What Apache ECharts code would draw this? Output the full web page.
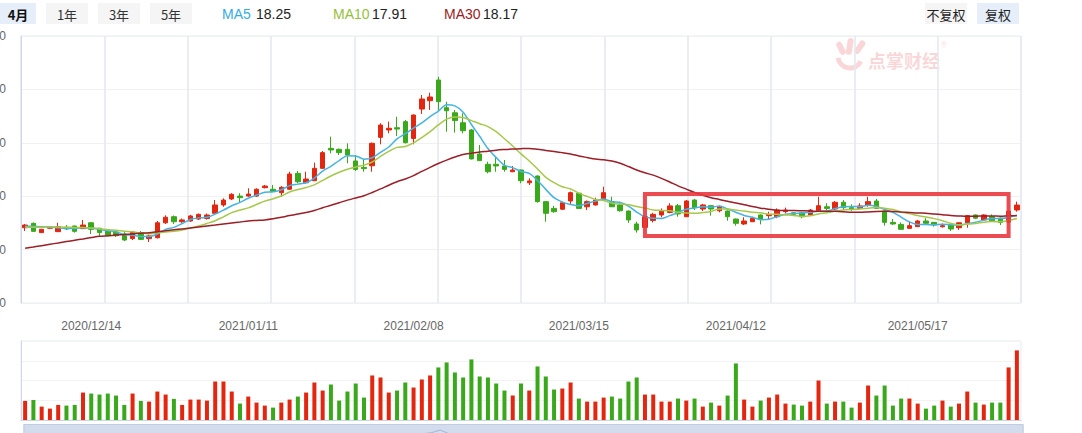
<!DOCTYPE html>
<html><head><meta charset="utf-8">
<script src="https://cdn.jsdelivr.net/npm/echarts@6/dist/echarts.min.js"></script>
<style>html,body{margin:0;padding:0;background:#fff;overflow:hidden}#c{width:1082px;height:433px}</style>
</head><body><div id="c"></div>
<script>
// ---------- data ----------
const dates = ['2020/12/02','2020/12/03','2020/12/04','2020/12/07','2020/12/08','2020/12/09','2020/12/10','2020/12/11','2020/12/14','2020/12/15',
'2020/12/16','2020/12/17','2020/12/18','2020/12/21','2020/12/22','2020/12/23','2020/12/24','2020/12/25','2020/12/28','2020/12/29',
'2020/12/30','2020/12/31','2021/01/04','2021/01/05','2021/01/06','2021/01/07','2021/01/08','2021/01/11','2021/01/12','2021/01/13',
'2021/01/14','2021/01/15','2021/01/18','2021/01/19','2021/01/20','2021/01/21','2021/01/22','2021/01/25','2021/01/26','2021/01/27',
'2021/01/28','2021/01/29','2021/02/01','2021/02/02','2021/02/03','2021/02/04','2021/02/05','2021/02/08','2021/02/09','2021/02/10',
'2021/02/18','2021/02/19','2021/02/22','2021/02/23','2021/02/24','2021/02/25','2021/02/26','2021/03/01','2021/03/02','2021/03/03',
'2021/03/04','2021/03/05','2021/03/08','2021/03/09','2021/03/10','2021/03/11','2021/03/12','2021/03/15','2021/03/16','2021/03/17',
'2021/03/18','2021/03/19','2021/03/22','2021/03/23','2021/03/24','2021/03/25','2021/03/26','2021/03/29','2021/03/30','2021/03/31',
'2021/04/01','2021/04/02','2021/04/06','2021/04/07','2021/04/08','2021/04/09','2021/04/12','2021/04/13','2021/04/14','2021/04/15',
'2021/04/16','2021/04/19','2021/04/20','2021/04/21','2021/04/22','2021/04/23','2021/04/26','2021/04/27','2021/04/28','2021/04/29',
'2021/04/30','2021/05/06','2021/05/07','2021/05/10','2021/05/11','2021/05/12','2021/05/13','2021/05/14','2021/05/17','2021/05/18',
'2021/05/19','2021/05/20','2021/05/21','2021/05/24','2021/05/25','2021/05/26','2021/05/27','2021/05/28','2021/05/31','2021/06/01',
'2021/06/02'];

const opens = [17.05,17.46,16.59,17.00,16.68,17.09,17.21,16.96,17.51,17.00,
16.74,16.63,16.46,16.03,16.59,16.03,16.11,17.51,18.08,17.61,
17.68,17.86,17.91,18.40,19.18,19.74,20.01,20.01,20.01,20.80,
20.65,20.33,20.65,22.14,21.26,21.45,22.61,24.48,24.39,24.39,
23.30,22.70,22.85,25.51,26.20,26.41,26.98,25.41,28.16,28.94,
30.88,28.29,27.81,26.88,26.20,23.95,22.99,22.99,22.83,22.29,
22.45,21.26,21.89,19.49,18.86,18.78,19.55,20.28,19.01,19.18,
19.64,19.49,19.18,18.61,17.40,17.08,17.73,18.24,18.48,19.11,
18.08,19.64,18.80,19.11,18.64,18.61,17.86,17.40,17.61,18.24,
18.18,18.08,18.55,18.45,18.45,18.24,18.61,19.01,18.80,19.43,
18.93,18.86,19.18,19.55,18.61,17.55,17.36,16.99,17.15,17.68,
17.55,17.14,17.30,17.05,17.51,18.24,17.78,18.08,17.94,17.58,
18.71];

const closes = [17.30,16.71,16.90,17.15,17.15,16.93,16.71,17.30,16.90,16.59,
16.30,16.30,15.90,16.65,15.96,16.28,17.51,18.03,17.61,17.78,
18.15,18.30,18.24,19.18,19.64,20.18,19.86,20.20,20.65,20.95,
20.43,20.83,22.08,21.35,21.61,22.61,24.08,24.33,24.08,23.86,
22.51,22.58,24.95,26.66,26.36,26.29,25.01,27.60,29.10,29.29,
28.85,28.00,27.08,26.13,23.49,23.33,22.29,22.83,22.51,22.45,
21.45,21.43,19.49,18.40,18.55,19.39,20.33,18.86,19.49,19.64,
20.33,19.01,18.64,17.78,16.84,18.08,18.30,18.59,19.09,18.34,
19.55,18.93,19.18,18.80,18.99,18.08,17.46,17.68,17.94,17.84,
18.30,18.70,18.70,18.30,18.08,18.70,19.11,18.86,19.43,18.93,
18.80,19.09,19.49,18.86,17.55,17.40,16.90,17.24,17.68,17.46,
17.30,17.24,16.93,17.51,18.18,17.94,18.24,17.70,17.55,18.60,
19.17];

const lows = [16.74,16.65,16.56,16.93,16.65,16.84,16.59,16.93,16.46,16.21,
16.23,16.18,15.80,15.90,15.90,15.71,16.04,17.40,17.40,17.50,
17.59,17.78,17.81,18.24,19.01,19.64,19.39,19.95,19.93,20.73,
20.39,19.95,20.58,21.21,21.19,21.43,22.55,24.01,23.86,23.08,
22.36,22.29,22.29,24.86,25.89,25.64,24.94,24.86,27.70,28.08,
28.08,26.04,25.95,25.89,23.44,23.30,22.14,22.29,22.29,22.26,
21.21,21.05,19.39,17.61,18.45,18.70,19.18,18.85,18.70,19.13,
19.60,18.99,18.55,17.51,16.59,17.03,17.54,18.03,18.40,18.08,
18.05,18.70,18.61,18.18,18.49,17.70,17.24,17.30,17.59,17.36,
17.78,17.94,18.40,18.24,17.94,18.18,18.56,18.70,18.70,18.70,
18.61,18.85,19.01,18.85,17.24,17.30,16.84,16.98,17.13,17.44,
17.15,17.06,16.74,16.84,17.05,17.86,17.73,17.61,17.30,17.49,
18.55];

const highs = [17.40,17.54,16.93,17.21,17.51,17.30,17.25,17.78,17.59,17.03,
16.79,16.74,16.63,16.70,16.74,16.40,17.68,18.21,18.19,17.91,
18.24,18.38,18.38,19.64,19.80,20.28,20.28,20.74,20.74,21.05,
21.05,20.95,22.29,22.36,22.29,23.14,24.23,25.58,24.46,24.95,
23.86,23.45,25.03,26.83,26.98,27.44,27.14,27.65,29.48,29.69,
31.19,28.85,28.08,27.76,26.29,24.79,23.23,23.70,23.39,22.83,
22.50,21.68,21.94,19.55,19.09,19.49,20.43,20.30,19.60,19.86,
20.89,19.95,19.49,18.66,17.61,18.19,18.45,18.85,19.34,19.28,
19.64,19.74,19.28,19.13,19.11,18.66,17.91,18.03,18.08,18.29,
18.55,18.86,18.93,18.51,18.51,18.80,19.95,19.34,19.55,19.64,
19.24,19.34,19.95,19.74,18.66,17.86,17.55,17.61,17.78,17.94,
17.59,17.44,17.36,17.55,18.21,18.29,18.30,18.30,18.01,18.70,
19.49];

const volumes = [57,60,40,34,45,43,45,82,79,76,
79,73,45,79,57,55,85,76,63,45,
61,61,58,115,115,85,49,70,52,43,
37,52,61,70,82,112,88,106,58,85,
109,67,133,127,82,88,112,97,121,133,
157,172,142,127,181,130,127,109,88,73,
109,88,160,130,91,94,112,64,55,55,
67,70,64,115,127,76,76,55,55,64,
58,64,40,52,43,73,169,61,40,58,
67,76,49,46,43,55,118,49,55,55,
37,52,103,73,103,43,64,64,49,34,
43,58,40,49,85,52,46,52,52,157,
208];

const ma5 = [17.18,17.17,17.15,17.12,17.04,16.97,16.97,17.05,17.00,16.89,
16.76,16.68,16.40,16.35,16.22,16.22,16.46,16.89,17.08,17.44,
17.82,17.97,18.02,18.33,18.70,19.11,19.42,19.81,20.11,20.37,
20.42,20.61,20.99,21.13,21.26,21.70,22.35,22.80,23.34,23.79,
23.77,23.47,23.60,24.11,24.61,25.37,25.85,26.38,26.87,27.46,
27.97,28.57,28.46,27.87,26.71,25.61,24.46,23.61,22.89,22.68,
22.31,22.13,21.47,20.64,19.86,19.45,19.23,19.11,19.32,19.54,
19.73,19.47,19.42,19.08,18.52,18.07,17.93,17.92,18.18,18.48,
18.77,18.90,19.02,18.96,19.09,18.80,18.50,18.20,18.03,17.80,
17.84,18.09,18.30,18.37,18.42,18.50,18.58,18.61,18.84,19.01,
19.03,19.02,19.15,19.03,18.76,18.48,18.04,17.59,17.35,17.34,
17.32,17.38,17.32,17.29,17.43,17.56,17.76,17.91,17.92,18.01,
18.25];

const ma10 = [17.10,17.10,17.10,17.11,17.11,17.10,17.08,17.06,17.02,16.96,
16.86,16.82,16.72,16.67,16.55,16.49,16.57,16.64,16.71,16.83,
17.02,17.22,17.45,17.70,18.07,18.46,18.70,18.91,19.22,19.54,
19.76,20.02,20.40,20.62,20.81,21.06,21.48,21.89,22.24,22.53,
22.73,22.91,23.20,23.73,24.20,24.57,24.66,24.99,25.49,26.04,
26.67,27.21,27.42,27.37,27.08,26.79,26.52,26.04,25.38,24.70,
23.96,23.30,22.54,21.77,21.27,20.88,20.68,20.29,19.98,19.70,
19.59,19.35,19.26,19.20,19.03,18.90,18.70,18.67,18.63,18.50,
18.42,18.41,18.47,18.57,18.79,18.79,18.70,18.61,18.50,18.45,
18.32,18.30,18.25,18.20,18.11,18.17,18.34,18.45,18.60,18.71,
18.76,18.80,18.88,18.94,18.88,18.75,18.53,18.37,18.19,18.05,
17.90,17.71,17.46,17.32,17.38,17.44,17.57,17.62,17.61,17.72,
17.91];

const ma30 = [15.12,15.24,15.37,15.50,15.62,15.75,15.88,16.00,16.13,16.25,
16.30,16.36,16.41,16.47,16.53,16.58,16.67,16.76,16.85,16.94,
17.03,17.12,17.21,17.30,17.40,17.49,17.58,17.68,17.73,17.78,
17.88,18.02,18.19,18.33,18.48,18.67,18.92,19.15,19.39,19.63,
19.84,20.05,20.35,20.68,21.03,21.36,21.61,21.93,22.32,22.70,
23.06,23.38,23.67,23.91,24.03,24.14,24.22,24.31,24.37,24.42,
24.45,24.47,24.39,24.29,24.19,24.08,23.95,23.77,23.62,23.48,
23.41,23.29,23.08,22.78,22.46,22.19,21.97,21.67,21.33,20.97,
20.66,20.35,20.09,19.85,19.70,19.52,19.36,19.19,19.04,18.88,
18.78,18.69,18.66,18.66,18.64,18.62,18.58,18.58,18.58,18.55,
18.50,18.50,18.53,18.57,18.59,18.57,18.52,18.48,18.43,18.40,
18.33,18.27,18.19,18.15,18.12,18.12,18.15,18.15,18.13,18.16,
18.17];

const dateLabels = ['2020/12/14','2021/01/11','2021/02/08','2021/03/15','2021/04/12','2021/05/17'];
const priceTicks = [10, 15, 20, 25, 30, 35];
const maNames = ['MA5','MA10','MA30'];
const maLatest = ['18.25','17.91','18.17'];
const tabLabels = ['4月','1年','3年','5年'];
const adjustLabels = ['不复权','复权'];
const watermarkText = '点掌财经';
const highlightDates = ['2021/03/25','2021/06/01'];
const highlightPrices = [16.27, 20.2];
const verticalDivisions = 12;

// ---------- chart ----------
const UP = '#e3260f', DOWN = '#3aa81b';
const MA_COLORS = ['#45b4e2', '#a6c84a', '#9c1e26'];
const MA_TEXT = ['#36ade0', '#96c03a', '#9a1c22'];
const FONT = 'Arial, "Liberation Sans", "Noto Sans CJK SC", sans-serif';
const CJK = '"Noto Sans CJK SC", Arial, sans-serif';

const candleData = dates.map((d, i) => [opens[i], closes[i], lows[i], highs[i]]);
const volData = volumes.map((v, i) => ({ value: v, itemStyle: { color: closes[i] >= opens[i] ? UP : DOWN } }));

const graphics = [];
const tabBoxes = [[0, 36], [46, 42], [98, 42], [150, 42]];
tabLabels.forEach((t, k) => {
  graphics.push({ type: 'rect', silent: true, shape: { x: tabBoxes[k][0], y: 3, width: tabBoxes[k][1], height: 21 },
    style: { fill: k === 0 ? '#e6eef9' : '#f5f5f5' } });
  graphics.push({ type: 'text', silent: true, x: tabBoxes[k][0] + tabBoxes[k][1] / 2, y: 14,
    style: { text: t, fill: k === 0 ? '#111' : '#333', font: (k === 0 ? 'bold ' : '') + '13px ' + CJK, textAlign: 'center', textVerticalAlign: 'middle' } });
});
const maNameX = [222, 333, 444], maValX = [256, 372, 483];
maNames.forEach((n, k) => {
  graphics.push({ type: 'text', silent: true, x: maNameX[k], y: 14,
    style: { text: n, fill: MA_TEXT[k], font: '14px ' + FONT, textAlign: 'left', textVerticalAlign: 'middle' } });
  graphics.push({ type: 'text', silent: true, x: maValX[k], y: 14,
    style: { text: maLatest[k], fill: '#222', font: '14px ' + FONT, textAlign: 'left', textVerticalAlign: 'middle' } });
});
const adjBoxes = [[925, 42], [977, 42]];
adjustLabels.forEach((t, k) => {
  graphics.push({ type: 'rect', silent: true, shape: { x: adjBoxes[k][0], y: 3, width: adjBoxes[k][1], height: 21 },
    style: { fill: k === 1 ? '#e6eef9' : '#f5f5f5' } });
  graphics.push({ type: 'text', silent: true, x: adjBoxes[k][0] + adjBoxes[k][1] / 2, y: 14,
    style: { text: t, fill: '#222', font: '13px ' + CJK, textAlign: 'center', textVerticalAlign: 'middle' } });
});
// watermark
const wm = 'rgba(232,96,100,0.26)';
graphics.push({ type: 'text', silent: true, z: 0, x: 868, y: 60,
  style: { text: watermarkText, fill: wm, font: 'bold 18px ' + CJK, textAlign: 'left', textVerticalAlign: 'middle' } });
graphics.push({ type: 'text', silent: true, z: 0, x: 944, y: 45,
  style: { text: '®', fill: wm, font: '9px ' + FONT, textAlign: 'center', textVerticalAlign: 'middle' } });
graphics.push({ type: 'rect', silent: true, z: 0, x: 838, y: 42, rotation: 0.45, shape: { x: -3, y: 0, width: 6, height: 14, r: 3 }, style: { fill: wm } });
graphics.push({ type: 'rect', silent: true, z: 0, x: 851, y: 38, rotation: -0.15, shape: { x: -3, y: 0, width: 6, height: 17, r: 3 }, style: { fill: wm } });
graphics.push({ type: 'rect', silent: true, z: 0, x: 864, y: 41, rotation: -0.6, shape: { x: -3, y: 0, width: 6, height: 15, r: 3 }, style: { fill: wm } });
graphics.push({ type: 'arc', silent: true, z: 0, shape: { cx: 850, cy: 56, r: 12, startAngle: 0.15 * Math.PI, endAngle: 0.95 * Math.PI }, style: { stroke: wm, lineWidth: 5, fill: null } });

const option = {
  animation: false,
  backgroundColor: '#ffffff',
  textStyle: { fontFamily: FONT },
  graphic: { elements: graphics },
  grid: [
    { left: 21, top: 36, width: 1000, height: 267, show: true, borderColor: '#e6ebf3', borderWidth: 1, containLabel: false, outerBoundsMode: 'none' },
    { left: 21, top: 341, width: 1000, height: 79, show: true, borderColor: '#e6ebf3', borderWidth: 1, containLabel: false, outerBoundsMode: 'none' }
  ],
  xAxis: [
    { type: 'category', gridIndex: 0, data: dates, boundaryGap: true,
      axisLine: { show: false }, axisTick: { show: false },
      axisLabel: { interval: (i, v) => dateLabels.includes(v), color: '#666', fontSize: 12, margin: 17, fontFamily: FONT },
      splitLine: { show: false } },
    { type: 'category', gridIndex: 1, data: dates, boundaryGap: true,
      axisLine: { show: true, lineStyle: { color: '#c9d4e8' } }, axisTick: { show: false },
      axisLabel: { show: false }, splitLine: { show: false } },
    { type: 'value', gridIndex: 0, min: 0, max: verticalDivisions, interval: 1, position: 'top',
      axisLine: { show: false }, axisTick: { show: false }, axisLabel: { show: false },
      splitLine: { show: true, lineStyle: { color: '#e3e8f1', width: 1.5 } } }
  ],
  yAxis: [
    { type: 'value', gridIndex: 0, min: priceTicks[0], max: priceTicks[priceTicks.length - 1], interval: priceTicks[1] - priceTicks[0],
      axisLine: { show: true, lineStyle: { color: '#cfd8ea' } }, axisTick: { show: false },
      axisLabel: { color: '#666', fontSize: 12, margin: 15, formatter: v => v.toFixed(2) },
      splitLine: { lineStyle: { color: '#f1f1f1' } } },
    { type: 'value', gridIndex: 1, min: 0, max: 236, interval: 59,
      axisLine: { show: true, lineStyle: { color: '#cfd8ea' } }, axisTick: { show: false },
      axisLabel: { show: false }, splitLine: { lineStyle: { color: '#f3f3f3' } } }
  ],
  dataZoom: [
    { type: 'slider', xAxisIndex: [0, 1], start: 0, end: 100, left: 21, width: 1000, top: 424, height: 32,
      showDetail: false, brushSelect: false, zoomLock: true, handleSize: 0, moveHandleSize: 0,
      handleStyle: { opacity: 0 }, moveHandleStyle: { opacity: 0 },
      backgroundColor: '#d3dcec', fillerColor: 'rgba(211,220,236,0.6)', borderColor: '#c3cde2',
      showDataShadow: true,
      dataBackground: { lineStyle: { color: '#5a7dbd', width: 1, opacity: 1 }, areaStyle: { color: 'rgba(0,0,0,0)' } },
      selectedDataBackground: { lineStyle: { color: '#5a7dbd', width: 1, opacity: 1 }, areaStyle: { color: 'rgba(0,0,0,0)' } } }
  ],
  series: [
    { type: 'candlestick', name: 'K', xAxisIndex: 0, yAxisIndex: 0, data: candleData, barWidth: 5, z: 2,
      itemStyle: { color: UP, color0: DOWN, borderColor: UP, borderColor0: DOWN, borderWidth: 1 },
      markArea: { silent: true, z: 5,
        itemStyle: { color: 'rgba(0,0,0,0)', borderColor: 'rgba(232,56,62,0.9)', borderWidth: 4 },
        data: [[{ xAxis: highlightDates[0], yAxis: highlightPrices[1] }, { xAxis: highlightDates[1], yAxis: highlightPrices[0] }]] } },
    { type: 'line', name: maNames[0], xAxisIndex: 0, yAxisIndex: 0, data: ma5, smooth: 0.3, symbol: 'none', z: 3,
      lineStyle: { color: MA_COLORS[0], width: 1.5 } },
    { type: 'line', name: maNames[1], xAxisIndex: 0, yAxisIndex: 0, data: ma10, smooth: 0.3, symbol: 'none', z: 3,
      lineStyle: { color: MA_COLORS[1], width: 1.5 } },
    { type: 'line', name: maNames[2], xAxisIndex: 0, yAxisIndex: 0, data: ma30, smooth: 0.3, symbol: 'none', z: 3,
      lineStyle: { color: MA_COLORS[2], width: 1.5 } },
    { type: 'bar', name: 'VOL', xAxisIndex: 1, yAxisIndex: 1, data: volData, barWidth: 4 }
  ]
};

const chart = echarts.init(document.getElementById('c'), null, { renderer: 'svg', width: 1082, height: 433 });
chart.setOption(option);
</script>
</body></html>
